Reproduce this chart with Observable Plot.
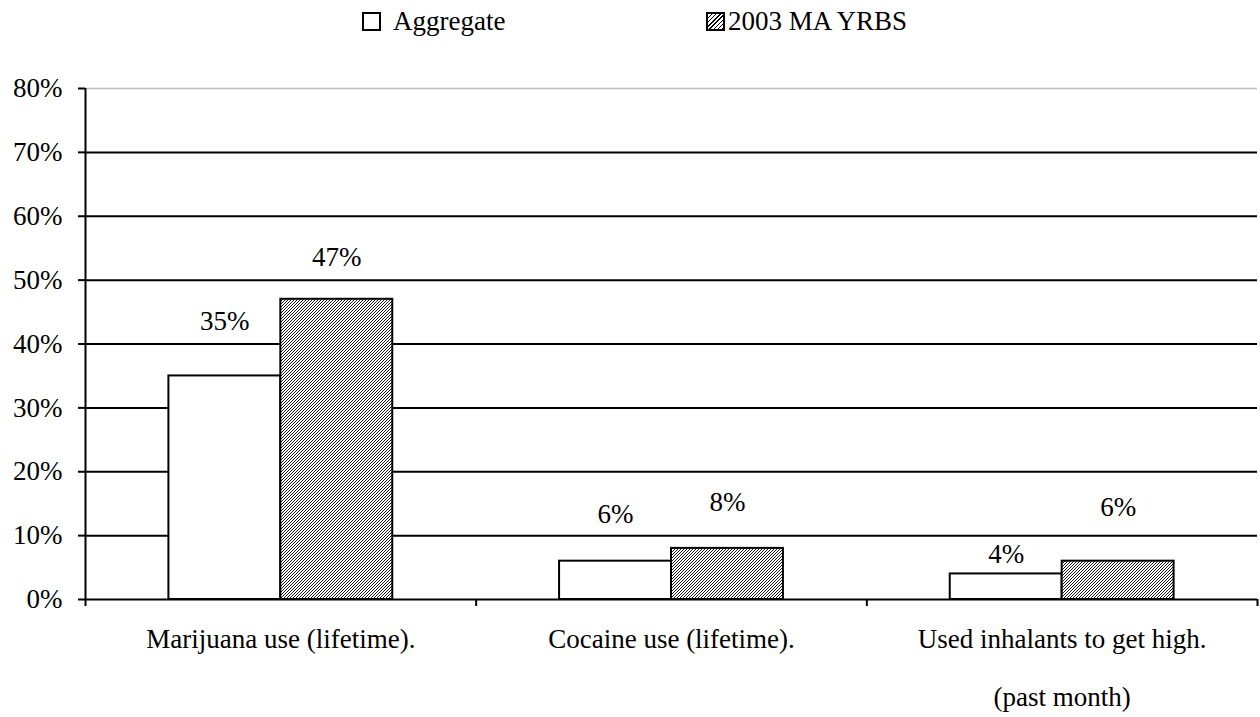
<!DOCTYPE html>
<html>
<head>
<meta charset="utf-8">
<script src="https://cdn.jsdelivr.net/npm/d3@7"></script>
<script src="https://cdn.jsdelivr.net/npm/@observablehq/plot@0.6"></script>
<style>
  html, body { margin: 0; padding: 0; background: #fff; }
  #wrap { position: relative; width: 1260px; height: 717px; font-family: "Times New Roman", "Liberation Serif", "DejaVu Serif", serif; color: #000; }
  .leg { position: absolute; top: 4px; font-size: 27px; line-height: 34px; display: flex; align-items: center; white-space: nowrap; }
  .box { width: 15px; height: 15px; border: 2px solid #000; background: #fff; }
  .box.hatch { background: repeating-linear-gradient(-45deg, #000 0 1px, #fff 1px 3px); }
  svg { position: absolute; left: 0; top: 0; }
</style>
</head>
<body>
<div id="wrap">
  <div class="leg" style="left:362px"><div class="box" style="margin-right:12px"></div>Aggregate</div>
  <div class="leg" style="left:706px"><div class="box hatch" style="margin-right:3px"></div>2003 MA YRBS</div>
</div>
<script>
const categories = ["Marijuana use (lifetime).", "Cocaine use (lifetime).", "Used inhalants to get high.\n(past month)"];
const series = ["Aggregate", "2003 MA YRBS"];
const aggregate = [0.35, 0.06, 0.04];
const yrbs = [0.47, 0.08, 0.06];
// where Excel placed the data labels (in value units)
const aggregateLabelAt = [0.435, 0.133, 0.070];
const yrbsLabelAt = [0.535, 0.152, 0.144];
const yTicks = [0, 0.1, 0.2, 0.3, 0.4, 0.5, 0.6, 0.7, 0.8];

const rows = [];
categories.forEach((c, ci) => {
  rows.push({ci, si: 0, series: series[0], value: aggregate[ci], labelAt: aggregateLabelAt[ci]});
  rows.push({ci, si: 1, series: series[1], value: yrbs[ci], labelAt: yrbsLabelAt[ci]});
});
const barW = 0.2865;
const x1 = d => d.ci + 0.5 - barW * (1 - d.si);
const x2 = d => d.ci + 0.5 + barW * d.si;
const xm = d => d.ci + 0.5 + barW * (d.si - 0.5);
const serif = "'Times New Roman', 'Liberation Serif', 'DejaVu Serif', serif";

const chart = Plot.plot({
  width: 1260,
  height: 717,
  marginTop: 88,
  marginBottom: 118,
  marginLeft: 85,
  marginRight: 3,
  x: {domain: [0, 3]},
  y: {domain: [0, 0.8]},
  style: {fontFamily: serif, fontSize: "27px", color: "#000", background: "transparent"},
  marks: [
    Plot.ruleY(yTicks.filter(d => d > 0 && d < 0.8), {stroke: "#000", strokeWidth: 2}),
    Plot.ruleY([0.8], {stroke: "#bdbdbd", strokeWidth: 1.5}),
    Plot.rectY(rows.filter(d => d.si === 0), {x1, x2, y1: 0, y2: "value", fill: "white", stroke: "#000", strokeWidth: 2}),
    Plot.rectY(rows.filter(d => d.si === 1), {x1, x2, y1: 0, y2: "value", fill: "url(#hatch)", stroke: "#000", strokeWidth: 2}),
    Plot.ruleY([0], {stroke: "#000", strokeWidth: 2}),
    Plot.ruleX([0], {stroke: "#000", strokeWidth: 2}),
    Plot.axisY({ticks: yTicks, tickFormat: d3.format(".0%"), tickSize: 7, tickPadding: 16, label: null, fontSize: 27, strokeWidth: 2}),
    Plot.axisX({ticks: [0, 1, 2, 3], tickFormat: () => "", tickSize: 7, label: null, strokeWidth: 2}),
    Plot.text(categories, {x: (d, i) => i + 0.5, y: 0, text: d => d, lineAnchor: "top", dy: 7, lineHeight: 2.15, fontSize: 27}),
    Plot.text(rows, {x: xm, y: "labelAt", text: d => d3.format(".0%")(d.value), fontSize: 27})
  ]
});
chart.insertAdjacentHTML("afterbegin",
  '<defs><pattern id="hatch" patternUnits="userSpaceOnUse" width="3" height="3">' +
  '<rect width="3" height="3" fill="#fff"/>' +
  '<path d="M-1,1 l2,-2 M0,3 l3,-3 M2,4 l2,-2" stroke="#000" stroke-width="0.9"/>' +
  '</pattern></defs>');
document.getElementById("wrap").appendChild(chart);
</script>
</body>
</html>
